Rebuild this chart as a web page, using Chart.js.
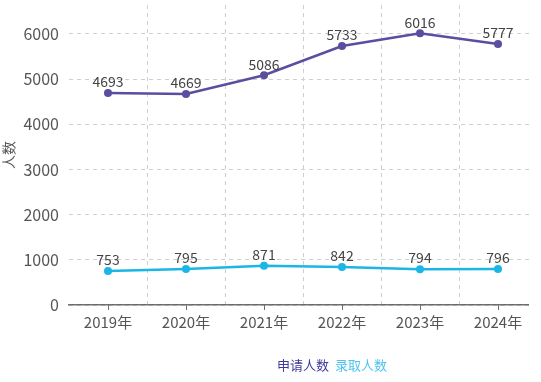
<!DOCTYPE html>
<html><head><meta charset="utf-8">
<script src="https://cdn.jsdelivr.net/npm/chart.js@4.4.1/dist/chart.umd.min.js"></script>
<style>
html,body{margin:0;padding:0;background:#fff;}
#wrap{position:relative;width:541px;height:382px;overflow:hidden;}
#legend{position:absolute;top:355px;left:277px;font-family:"Noto Sans CJK SC",sans-serif;font-size:13px;white-space:nowrap;}
#legend span{margin-right:6px;}
#edge{position:absolute;left:529px;top:0;width:12px;height:320px;background:#fff;}
</style></head>
<body>
<div id="wrap">
<canvas id="c" width="541" height="382"></canvas>
<div id="edge"></div>
<div id="legend"><span style="color:#3f3a98">申请人数</span><span style="color:#4cc4f0">录取人数</span></div>
</div>
<script>
const categories = ["2019年","2020年","2021年","2022年","2023年","2024年"];
const applicants = [4693,4669,5086,5733,6016,5777];
const admitted = [753,795,871,842,794,796];
const yTicks = [0,1000,2000,3000,4000,5000,6000];
const seriesNames = ["申请人数","录取人数"];

const FONT = '"Noto Sans CJK SC","Noto Sans",sans-serif';

const labelPlugin = {
  id:'pointLabels',
  afterDatasetsDraw(chart){
    const ctx = chart.ctx;
    ctx.save();
    ctx.font = '14px ' + FONT;
    ctx.fillStyle = '#444';
    ctx.textAlign = 'center';
    ctx.textBaseline = 'middle';
    chart.data.datasets.forEach((ds,i)=>{
      chart.getDatasetMeta(i).data.forEach((pt,j)=>{
        ctx.fillText(String(ds.data[j]), pt.x, pt.y - 11);
      });
    });
    ctx.restore();
  }
};
const tickMarks = {
  id:'tickMarks',
  afterDraw(chart){
    const x = chart.scales.x, ctx = chart.ctx;
    ctx.save();
    ctx.strokeStyle = '#6e6e6e';
    ctx.lineWidth = 1;
    ctx.setLineDash([]);
    categories.forEach((c,i)=>{
      const px = Math.round(x.getPixelForValue(i)) + 0.5;
      ctx.beginPath(); ctx.moveTo(px, x.top); ctx.lineTo(px, x.top + 5); ctx.stroke();
    });
    ctx.restore();
  }
};

new Chart(document.getElementById('c'), {
  type:'line',
  data:{
    labels:categories,
    datasets:[
      {label:seriesNames[0], data:applicants, borderColor:'#5a4ea0', backgroundColor:'#5a4ea0', borderWidth:2.5, pointRadius:4, pointBorderWidth:0, pointHoverRadius:4, tension:0},
      {label:seriesNames[1], data:admitted, borderColor:'#1bb6e6', backgroundColor:'#1bb6e6', borderWidth:2.5, pointRadius:4, pointBorderWidth:0, pointHoverRadius:4, tension:0}
    ]
  },
  options:{
    responsive:false,
    animation:false,
    layout:{padding:{left:0,right:2,top:5,bottom:1}},
    plugins:{legend:{display:false}, tooltip:{enabled:false}},
    scales:{
      x:{
        offset:true,
        grid:{offset:true, drawTicks:false, color:(c)=> c.index === 0 ? 'rgba(0,0,0,0)' : '#cfcfcf', lineWidth:1},
        border:{display:true, color:'#6e6e6e', width:1.5, dash:[4,4]},
        ticks:{padding:8, color:'#555', font:{family:FONT, size:15}},
        afterFit(s){ s.height = 76; s.paddingLeft = 0; s.paddingRight = 0; }
      },
      y:{
        min:0, max:6640,
        afterBuildTicks(s){ s.ticks = yTicks.map(v=>({value:v})); },
        grid:{drawTicks:false, color:'#cfcfcf', lineWidth:1},
        border:{display:false, dash:[4,4]},
        ticks:{padding:10, color:'#555', font:{family:FONT, size:16}, callback:(v)=>String(v)},
        title:{display:true, text:'人数', color:'#555', font:{family:FONT, size:14}, padding:0},
        afterFit(s){ s.width = 69; s.paddingTop = 0; s.paddingBottom = 0; }
      }
    }
  },
  plugins:[labelPlugin, tickMarks]
});
</script>
</body></html>
